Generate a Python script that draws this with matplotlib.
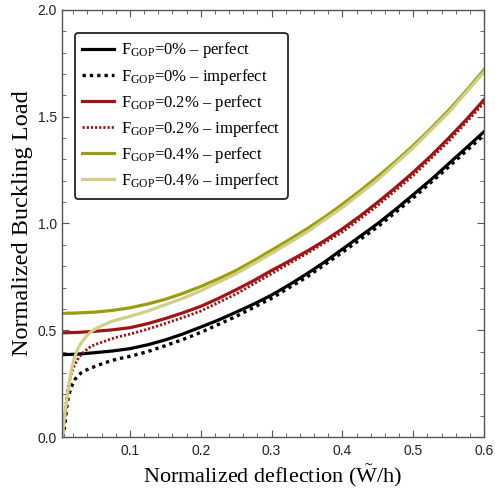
import matplotlib
matplotlib.use("Agg")
import matplotlib.pyplot as plt
from matplotlib.ticker import MultipleLocator

plt.rcParams['mathtext.fontset'] = 'custom'
plt.rcParams['mathtext.rm'] = 'Liberation Serif'
plt.rcParams['mathtext.it'] = 'Liberation Serif:italic'

# ---- data ----
x_perfect = [0.005, 0.025, 0.05, 0.075, 0.1, 0.125, 0.15, 0.175, 0.2, 0.225, 0.25, 0.275,
             0.3, 0.325, 0.35, 0.375, 0.4, 0.425, 0.45, 0.475, 0.5, 0.525, 0.55, 0.575, 0.6]
y_perf_0 = [0.386, 0.388, 0.395, 0.403, 0.414, 0.432, 0.455, 0.483, 0.515, 0.548, 0.585, 0.623,
            0.665, 0.713, 0.765, 0.82, 0.88, 0.94, 1.0, 1.066, 1.135, 1.205, 1.28, 1.355, 1.43]
y_perf_02 = [0.488, 0.490, 0.495, 0.502, 0.512, 0.531, 0.555, 0.582, 0.612, 0.649, 0.69, 0.733,
             0.78, 0.824, 0.87, 0.92, 0.975, 1.035, 1.10, 1.168, 1.24, 1.317, 1.40, 1.487, 1.58]
y_perf_04 = [0.579, 0.581, 0.585, 0.593, 0.605, 0.623, 0.645, 0.673, 0.705, 0.741, 0.78, 0.826,
             0.875, 0.924, 0.975, 1.03, 1.09, 1.153, 1.22, 1.29, 1.365, 1.445, 1.53, 1.622, 1.72]

x_imperfect = [0.005, 0.0065, 0.008, 0.009, 0.0105, 0.012, 0.013, 0.015, 0.0175, 0.02, 0.022,
               0.026, 0.031, 0.038, 0.045, 0.054, 0.064, 0.073, 0.083, 0.1, 0.125, 0.15,
               0.175, 0.2, 0.25, 0.3, 0.35, 0.4, 0.45, 0.5, 0.55, 0.6]
y_imp_0 = [0.0, 0.02, 0.05, 0.08, 0.13, 0.165, 0.185, 0.21, 0.235, 0.255, 0.268,
           0.285, 0.30, 0.313, 0.323, 0.335, 0.347, 0.357, 0.366, 0.378, 0.40, 0.428,
           0.457, 0.49, 0.565, 0.65, 0.75, 0.865, 0.985, 1.12, 1.265, 1.415]
y_imp_02 = [0.0, 0.05, 0.10, 0.127, 0.18, 0.215, 0.237, 0.265, 0.30, 0.322, 0.339,
            0.362, 0.386, 0.407, 0.425, 0.437, 0.448, 0.459, 0.469, 0.482, 0.505, 0.532,
            0.56, 0.59, 0.67, 0.765, 0.86, 0.96, 1.085, 1.225, 1.385, 1.565]
y_imp_04 = [0.0, 0.06, 0.10, 0.127, 0.16, 0.20, 0.22, 0.26, 0.315, 0.35, 0.372,
            0.41, 0.44, 0.47, 0.493, 0.512, 0.527, 0.54, 0.55, 0.565, 0.59, 0.62,
            0.65, 0.685, 0.765, 0.86, 0.96, 1.075, 1.205, 1.355, 1.52, 1.71]

labels = [r'F$_{\mathrm{GOP}}$=0% – perfect',
          r'F$_{\mathrm{GOP}}$=0% – imperfect',
          r'F$_{\mathrm{GOP}}$=0.2% – perfect',
          r'F$_{\mathrm{GOP}}$=0.2% – imperfect',
          r'F$_{\mathrm{GOP}}$=0.4% – perfect',
          r'F$_{\mathrm{GOP}}$=0.4% – imperfect']

c_black = '#000000'
c_red = '#a01414'
c_olive = '#9c9c0c'
c_olive_light = '#cfcf86'

fig = plt.figure(figsize=(4.95, 4.95), dpi=100)
ax = fig.add_axes([0.125, 0.117, 0.853, 0.863])

ax.plot(x_perfect, y_perf_0, color=c_black, lw=2.3, label=labels[0])
ax.plot(x_imperfect, y_imp_0, color=c_black, lw=2.4, ls=(0, (1, 1.2)), label=labels[1])
ax.plot(x_perfect, y_perf_02, color=c_red, lw=2.3, label=labels[2])
ax.plot(x_imperfect, y_imp_02, color=c_red, lw=2.0, ls=(0, (0.8, 0.7)), label=labels[3])
ax.plot(x_perfect, y_perf_04, color=c_olive, lw=2.3, label=labels[4])
ax.plot(x_imperfect, y_imp_04, color=c_olive_light, lw=2.3, label=labels[5])

ax.set_xlim(0.004, 0.6)
ax.set_ylim(0.0, 2.0)
ax.xaxis.set_minor_locator(MultipleLocator(0.02))
ax.yaxis.set_minor_locator(MultipleLocator(0.1))
ax.set_xticks([0.1, 0.2, 0.3, 0.4, 0.5, 0.6])
ax.set_xticklabels(['0.1', '0.2', '0.3', '0.4', '0.5', '0.6'])
ax.set_yticks([0.0, 0.5, 1.0, 1.5, 2.0])
ax.set_yticklabels(['0.0', '0.5', '1.0', '1.5', '2.0'])

ax.tick_params(which='both', direction='in', top=True, right=True, colors='#555555',
               labelcolor='#222222', labelsize=10)
ax.tick_params(which='major', length=5, width=0.8)
ax.tick_params(which='minor', length=3, width=0.6)
for lab in ax.get_xticklabels() + ax.get_yticklabels():
    lab.set_family('Liberation Sans')
ax.tick_params(axis='x', pad=5)
for s in ax.spines.values():
    s.set_color('#555555')
    s.set_linewidth(1.0)

ax.set_xlabel(r'Normalized deflection ($\tilde{\mathrm{W}}$/h)', family='Liberation Serif',
              fontsize=16, labelpad=3)
ax.set_ylabel('Normalized Buckling Load', family='Liberation Serif', fontsize=17.5, labelpad=3)

leg = ax.legend(loc='upper left', bbox_to_anchor=(0.031, 0.946), borderaxespad=0,
                prop={'family': 'Liberation Serif', 'size': 12},
                handlelength=1.9, handletextpad=0.4, labelspacing=0.37,
                borderpad=0.45, fancybox=True, framealpha=1)
leg.get_frame().set_edgecolor('#222222')
leg.get_frame().set_linewidth(1.3)

fig.savefig('out.png', dpi=100)
